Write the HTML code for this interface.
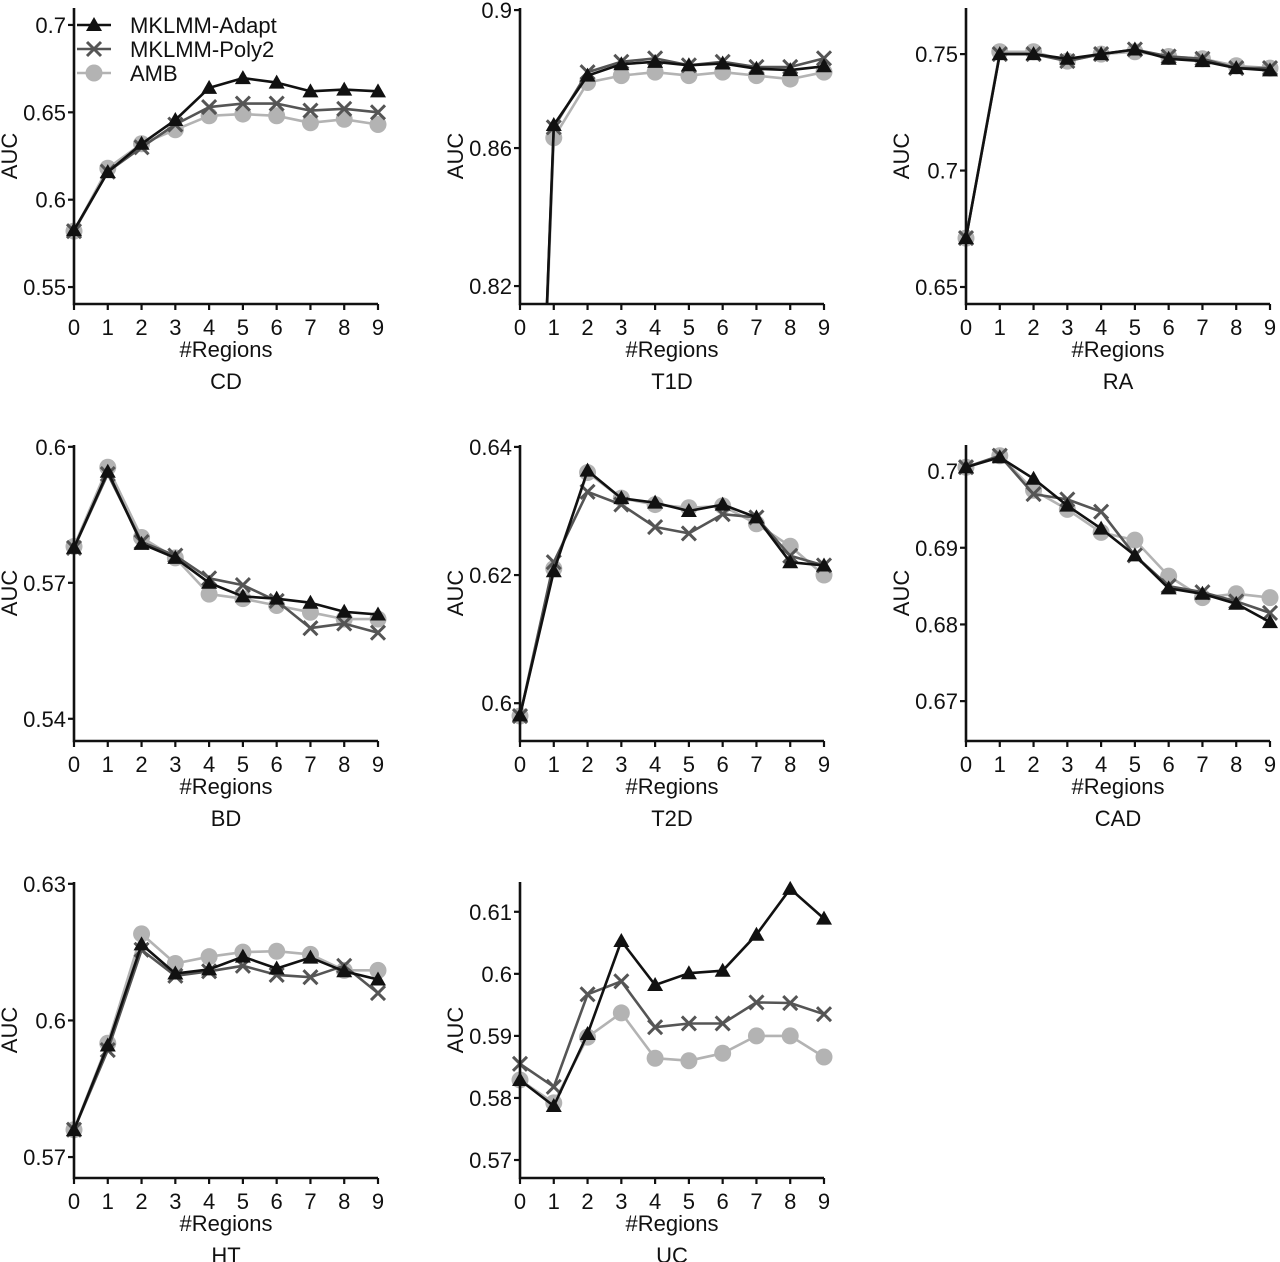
<!DOCTYPE html>
<html><head><meta charset="utf-8"><style>
html,body{margin:0;padding:0;background:#fff;}
svg{display:block;font-family:"Liberation Sans",Arial,sans-serif;}
</style></head><body>
<svg id="fig" width="1280" height="1262" viewBox="0 0 1280 1262"></svg>
<script>
const categories=[0,1,2,3,4,5,6,7,8,9];
const seriesNames=["MKLMM-Adapt","MKLMM-Poly2","AMB"];
const cdAdapt=[0.5826,0.6158,0.632,0.6456,0.664,0.6696,0.667,0.662,0.663,0.662];
const cdPoly=[0.582,0.616,0.630,0.643,0.653,0.655,0.655,0.651,0.652,0.650];
const cdAmb=[0.582,0.618,0.632,0.640,0.648,0.649,0.648,0.644,0.646,0.643];
const t1dAdapt=[0.61,0.8667,0.881,0.8843,0.885,0.884,0.8845,0.883,0.8826,0.8837];
const t1dPoly=[0.61,0.866,0.882,0.885,0.886,0.884,0.885,0.8835,0.8835,0.886];
const t1dAmb=[0.61,0.863,0.879,0.881,0.882,0.881,0.882,0.881,0.880,0.882];
const raAdapt=[0.671,0.750,0.750,0.748,0.750,0.752,0.748,0.747,0.744,0.743];
const raPoly=[0.671,0.750,0.750,0.747,0.750,0.752,0.749,0.748,0.744,0.744];
const raAmb=[0.671,0.751,0.751,0.747,0.750,0.751,0.749,0.748,0.745,0.744];
const bdAdapt=[0.5777,0.5945,0.5786,0.5755,0.570,0.567,0.5665,0.5656,0.5636,0.563];
const bdPoly=[0.5777,0.594,0.579,0.576,0.571,0.5695,0.566,0.560,0.561,0.559];
const bdAmb=[0.578,0.5955,0.580,0.5755,0.5675,0.5665,0.565,0.5635,0.562,0.562];
const t2dAdapt=[0.5981,0.6206,0.6363,0.632,0.6313,0.630,0.631,0.629,0.622,0.6215];
const t2dPoly=[0.598,0.622,0.633,0.631,0.6275,0.6265,0.6295,0.629,0.623,0.6215];
const t2dAmb=[0.598,0.621,0.636,0.632,0.631,0.6305,0.6308,0.628,0.6245,0.620];
const cadAdapt=[0.7005,0.7018,0.699,0.6955,0.6925,0.689,0.6847,0.684,0.6827,0.6803];
const cadPoly=[0.7005,0.702,0.697,0.6963,0.6947,0.689,0.685,0.6842,0.683,0.6815];
const cadAmb=[0.7005,0.702,0.6975,0.695,0.692,0.691,0.6863,0.6835,0.684,0.6835];
const htAdapt=[0.5759,0.5945,0.6167,0.6103,0.6112,0.614,0.6114,0.6138,0.6108,0.609];
const htPoly=[0.576,0.5935,0.6155,0.6098,0.6108,0.612,0.610,0.6095,0.612,0.606];
const htAmb=[0.576,0.595,0.619,0.6125,0.614,0.615,0.6152,0.6145,0.611,0.611];
const ucAdapt=[0.5829,0.5787,0.5903,0.6053,0.5982,0.6001,0.6005,0.6063,0.6137,0.6089];
const ucPoly=[0.5855,0.5818,0.5967,0.5988,0.5914,0.592,0.592,0.5954,0.5953,0.5935];
const ucAmb=[0.5829,0.5792,0.5898,0.5937,0.5864,0.586,0.5872,0.590,0.590,0.5866];
const cdTicks=["0.55","0.6","0.65","0.7"];
const t1dTicks=["0.82","0.86","0.9"];
const raTicks=["0.65","0.7","0.75"];
const bdTicks=["0.54","0.57","0.6"];
const t2dTicks=["0.6","0.62","0.64"];
const cadTicks=["0.67","0.68","0.69","0.7"];
const htTicks=["0.57","0.6","0.63"];
const ucTicks=["0.57","0.58","0.59","0.6","0.61"];

const panels=[
 {name:"CD",ox:74,by:304,ymin:0.5403,ymax:0.7097,ticks:cdTicks,s:[cdAdapt,cdPoly,cdAmb],legend:true},
 {name:"T1D",ox:520,by:304,ymin:0.8148,ymax:0.9006,ticks:t1dTicks,s:[t1dAdapt,t1dPoly,t1dAmb]},
 {name:"RA",ox:966,by:304,ymin:0.6427,ymax:0.7698,ticks:raTicks,s:[raAdapt,raPoly,raAmb]},
 {name:"BD",ox:74,by:741,ymin:0.5351,ymax:0.6004,ticks:bdTicks,s:[bdAdapt,bdPoly,bdAmb]},
 {name:"T2D",ox:520,by:741,ymin:0.5941,ymax:0.6403,ticks:t2dTicks,s:[t2dAdapt,t2dPoly,t2dAmb]},
 {name:"CAD",ox:966,by:741,ymin:0.6648,ymax:0.7034,ticks:cadTicks,s:[cadAdapt,cadPoly,cadAmb]},
 {name:"HT",ox:74,by:1178,ymin:0.5654,ymax:0.6304,ticks:htTicks,s:[htAdapt,htPoly,htAmb]},
 {name:"UC",ox:520,by:1178,ymin:0.5671,ymax:0.6148,ticks:ucTicks,s:[ucAdapt,ucPoly,ucAmb]}
];
const NS="http://www.w3.org/2000/svg";
const svg=document.getElementById('fig');
function mk(tag,attrs,parent){const e=document.createElementNS(NS,tag);for(const k in attrs)e.setAttribute(k,attrs[k]);(parent||svg).appendChild(e);return e;}
const colors=["#111","#555","#b3b3b3"];
const FS=22;
function marker(kind,x,y,g){
 let m;
 if(kind===0){m=mk('polygon',{points:`${x},${y-8} ${x-8},${y+6} ${x+8},${y+6}`,fill:"#111"},g);}
 else if(kind===1){m=mk('path',{d:`M${x-7},${y-7}L${x+7},${y+7}M${x-7},${y+7}L${x+7},${y-7}`,stroke:"#555","stroke-width":3,fill:"none"},g);}
 else {m=mk('circle',{cx:x,cy:y,r:8.5,fill:"#b3b3b3"},g);}
 return m;
}
panels.forEach((p,pi)=>{
 const H=296, W=304;
 const top=p.by-H;
 const xs=i=>p.ox+categories[i]*(W/9);
 const ys=v=>p.by-(v-p.ymin)/(p.ymax-p.ymin)*H;
 const g=mk('g',{});
 
 
 const cid='clip'+pi;
 const cp=mk('clipPath',{id:cid},g);mk('rect',{x:p.ox-12,y:top-12,width:W+24,height:H+12},cp);
 [2,1,0].forEach(si=>{
  const sg=mk('g',{'clip-path':`url(#${cid})`},g);
  
  
  const d=p.s[si].map((v,i)=>(i?'L':'M')+xs(i).toFixed(1)+','+ys(v).toFixed(1)).join('');
  mk('path',{d:d,fill:"none",stroke:colors[si],"stroke-width":2.6,"stroke-linejoin":"round"},sg);
  p.s[si].forEach((v,i)=>{const m=marker(si,xs(i),ys(v),sg);
   
   });
 });
 const ax=mk('path',{d:`M${p.ox},${top}L${p.ox},${p.by}L${p.ox+W},${p.by}`,fill:"none",stroke:"#111","stroke-width":2.6},g);
 
 
 p.ticks.forEach(t=>{const y=ys(parseFloat(t));
  mk('line',{x1:p.ox-6,x2:p.ox,y1:y,y2:y,stroke:"#111","stroke-width":2.2},g);
  const tx=mk('text',{x:p.ox-8,y:y+8,"text-anchor":"end","font-size":FS,fill:"#111"},g);tx.textContent=t;
  
  });
 categories.forEach((c,i)=>{const x=xs(i);
  mk('line',{x1:x,x2:x,y1:p.by,y2:p.by+6,stroke:"#111","stroke-width":2.2},g);
  const tx=mk('text',{x:x,y:p.by+31,"text-anchor":"middle","font-size":FS,fill:"#111"},g);tx.textContent=c;
  
  });
 const xl=mk('text',{x:p.ox+W/2,y:p.by+53,"text-anchor":"middle","font-size":FS,fill:"#111"},g);xl.textContent="#Regions";
 
 
 const tl=mk('text',{x:p.ox+W/2,y:p.by+85,"text-anchor":"middle","font-size":FS,fill:"#111"},g);tl.textContent=p.name;
 
 
 const yl=mk('text',{x:0,y:0,transform:`translate(${p.ox-57},${top+H/2}) rotate(-90)`,"text-anchor":"middle","font-size":FS,fill:"#111"},g);yl.textContent="AUC";
 
 
 if(p.legend){
  seriesNames.forEach((n,si)=>{const y=25+si*24;
   const lg=mk('g',{},g);
   
   
   mk('line',{x1:p.ox+3,x2:p.ox+37,y1:y,y2:y,stroke:colors[si],"stroke-width":2.6},lg);
   marker(si,p.ox+20,y,lg);
   const t=mk('text',{x:p.ox+56,y:y+8,"font-size":FS,fill:"#111"},lg);t.textContent=n;});
 }
});
</script>
</body></html>
